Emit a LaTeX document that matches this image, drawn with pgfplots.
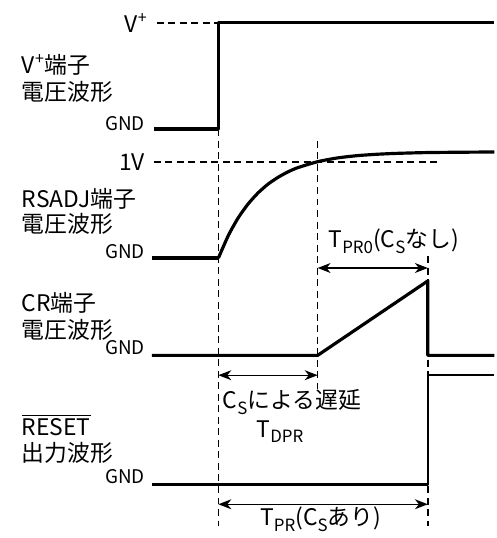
\documentclass[border=0pt]{standalone}
\usepackage{fontspec}
\setmainfont{Noto Sans CJK JP}
\usepackage{pgfplots}
\pgfplotsset{compat=1.18}
\usetikzlibrary{arrows.meta}
\newcommand\sub[1]{\raisebox{-0.45ex}{\fontsize{8.5}{9}\selectfont #1}}
\newcommand\lab{\fontsize{11.5}{13}\selectfont}
\newcommand\sml{\fontsize{9.5}{10}\selectfont}
\begin{document}
\begin{tikzpicture}
\begin{axis}[width=250pt,height=269pt,scale only axis,
  xmin=0,xmax=500,ymin=0,ymax=538,y dir=reverse,hide axis,clip=false,
  dsh/.style={black,line width=0.75pt,dash pattern=on 3.5pt off 2.3pt},
  sig/.style={black,line width=1.6pt,line join=round},
  arr/.style={black,line width=0.7pt,<->,>={Stealth[length=6.5pt,width=5pt,inset=2pt]}}]
\addplot[draw=none] coordinates {(0,0) (500,538)};
% dashed guide lines
\addplot[dsh] coordinates {(158,23) (220,23)};
\addplot[dsh] coordinates {(155,163) (443,163)};
\addplot[dsh] coordinates {(220,130) (220,530)};
\addplot[dsh] coordinates {(320,142) (320,392)};
\addplot[dsh] coordinates {(431,258) (431,530)};
% arrows
\addplot[arr] coordinates {(320,270) (431,270)};
\addplot[arr] coordinates {(220,378) (320,378)};
\addplot[arr] coordinates {(220,508) (431,508)};
% V+ waveform
\addplot[sig] coordinates {(155,130) (220,130) (220,23) (498,23)};
% RSADJ waveform
\addplot[sig] coordinates {(153,260) (220,260)};
\addplot[sig,smooth,tension=0.4] coordinates {(220,260) (230,237.3) (240,219.4) (250,205.4) (260,194.3) (270,185.5) (280,178.7) (290,173.2) (300,168.9) (320,162.9) (340,159.1) (360,156.8) (380,155.4) (400,154.5) (430,153.7) (460,153.4) (498,153.1)};
% CR waveform
\addplot[sig] coordinates {(153,358) (320,358) (431,283) (431,358) (498,358)};
% RESET waveform
\addplot[black,line width=1.1pt,line join=round] coordinates {(153,488) (431,488) (431,378) (498,378)};
% labels
\node[anchor=east,font=\lab] at (axis cs:156,23) {V\textsuperscript{+}};
\node[anchor=west,font=\lab] at (axis cs:15,65) {V\textsuperscript{+}端子};
\node[anchor=west,font=\lab] at (axis cs:15,93) {電圧波形};
\node[anchor=base east,font=\sml] at (axis cs:153,131) {GND};
\node[anchor=east,font=\lab] at (axis cs:153,163) {1V};
\node[anchor=west,font=\lab] at (axis cs:15,200) {RSADJ端子};
\node[anchor=west,font=\lab] at (axis cs:15,226) {電圧波形};
\node[anchor=base east,font=\sml] at (axis cs:153,260) {GND};
\node[anchor=west,font=\lab] at (axis cs:324,243) {T\sub{PR0}(C\sub{S}なし)};
\node[anchor=west,font=\lab] at (axis cs:15,305) {CR端子};
\node[anchor=west,font=\lab] at (axis cs:15,332) {電圧波形};
\node[anchor=base east,font=\sml] at (axis cs:153,357) {GND};
\node[font=\lab] at (axis cs:294,405) {C\sub{S}による遅延};
\node[font=\lab] at (axis cs:282,435) {T\sub{DPR}};
\node[anchor=west,font=\lab] at (axis cs:15,428) {$\overline{\mbox{RESET}}$};
\node[anchor=west,font=\lab] at (axis cs:15,456) {出力波形};
\node[anchor=base east,font=\sml] at (axis cs:153,487) {GND};
\node[font=\lab] at (axis cs:323,523) {T\sub{PR}(C\sub{S}あり)};
\end{axis}
\end{tikzpicture}
\end{document}
